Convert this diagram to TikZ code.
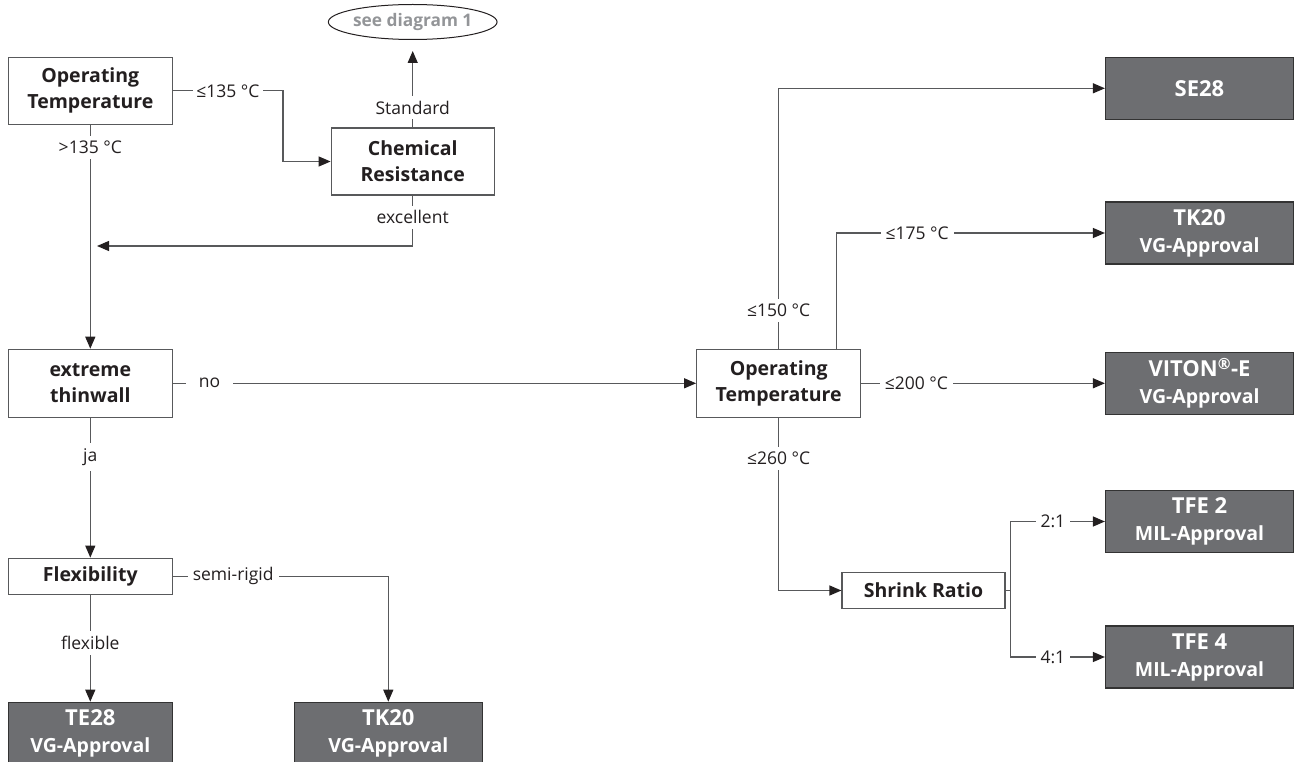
\documentclass[tikz,border=0pt]{standalone}
\usepackage{fontspec}
\setmainfont{Open Sans}
\usetikzlibrary{arrows.meta,shapes.geometric}
\definecolor{linegray}{HTML}{58595B}
\definecolor{boxgray}{HTML}{6D6E71}
\definecolor{txtgray}{HTML}{231F20}
\definecolor{ovalgray}{HTML}{939598}
\newcommand\Tle[1]{≤#1 °C}
\newcommand\Appr[1]{\\{\fontsize{19.5}{22}\selectfont #1-Approval}}

\begin{document}
\begin{tikzpicture}[x=1pt,y=-1pt,line width=1.2pt,color=linegray,
    >={Triangle[length=12pt,width=10pt,color=txtgray]},
    ask/.style={draw=linegray,fill=white,text=txtgray,align=center,inner sep=0pt,
        minimum width=164pt,minimum height=67pt,font=\bfseries\fontsize{19.5}{26}\selectfont},
    pick/.style={draw=black!80,fill=boxgray,text=white,align=center,inner sep=0pt,
        minimum width=188pt,minimum height=62pt,font=\bfseries\fontsize{22}{27}\selectfont},
    lbl/.style={fill=white,text=txtgray,inner xsep=5pt,inner ysep=5pt,font=\fontsize{17.5}{20}\selectfont}]
        \useasboundingbox (0,0) rectangle (1303,762);
        \node[ask] (ot1) at (90.3,90.8) {Operating\\Temperature};
        \node[ask,minimum width=163pt] (chem) at (412.7,161.5) {Chemical\\Resistance};
        \node[draw=txtgray,line width=1pt,ellipse,minimum width=152pt,minimum height=35pt,inner sep=0pt,
            text=ovalgray,font=\bfseries\fontsize{17.3}{20}\selectfont] (diag1) at (412.7,22) {see diagram 1};
        \node[ask,minimum height=68pt] (thin) at (90.3,383.3) {extreme\\thinwall};
        \node[ask,minimum height=36pt] (flex) at (90.3,576.2) {Flexibility};
        \node[pick,minimum width=164pt] (te28) at (90.3,733.3) {TE28\Appr{VG}};
        \node[pick] (tk20l) at (388.3,733.3) {TK20\Appr{VG}};
        \node[ask,minimum height=68pt] (ot2) at (778.7,383.3) {Operating\\Temperature};
        \node[pick] (se28) at (1199.5,88.3) {SE28};
        \node[pick] (tk20r) at (1199.5,233) {TK20\Appr{VG}};
        \node[pick] (viton) at (1199.5,383.3) {VITON\textsuperscript{®}-E\Appr{VG}};
        \node[ask,minimum width=163pt,minimum height=36pt] (shrink) at (923.5,590.5) {Shrink Ratio};
        \node[pick] (tfe2) at (1199.5,521.5) {TFE 2\Appr{MIL}};
        \node[pick] (tfe4) at (1199.5,657) {TFE 4\Appr{MIL}};
        \coordinate (k135) at (283,0);
        \coordinate (back) at (97,246);
        \coordinate (fork) at (1010.3,0);
        \draw[->] (ot1.east) -- node[lbl,inner xsep=3pt] {\Tle{135}} (ot1.east -| k135) |- (chem.west);
        \draw[->,shorten >=11pt] (chem.north) -- node[lbl,pos=0.226] {Standard} (diag1.south);
        \draw[->] (chem.south) |- node[lbl,pos=0.215] {excellent} (back);
        \draw[->] (ot1) -- node[lbl,pos=0.1] {>135 °C} (thin);
        \draw[->] (thin) -- node[lbl,pos=0.07,inner xsep=13pt] {no} (ot2);
        \draw[->] (thin) -- node[lbl,pos=0.28] {ja} (flex);
        \draw[->] (flex) -- node[lbl,pos=0.45] {flexible} (te28);
        \draw[->] (flex.east) -| node[lbl,pos=0.14] {semi-rigid} (tk20l.north);
        \draw[->] (ot2.north) |- node[lbl,pos=0.074] {\Tle{150}} (se28.west);
        \draw[->] ([xshift=58pt]ot2.north) |- node[lbl,pos=0.65] {\Tle{175}} (tk20r.west);
        \draw[->] (ot2) -- node[lbl,pos=0.226] {\Tle{200}} (viton);
        \draw[->] (ot2.south) |- node[lbl,pos=0.1175] {\Tle{260}} (shrink.west);
        \draw (shrink.east) -- (shrink.east -| fork);
        \draw[->] (shrink.east -| fork) |- node[lbl,pos=0.725] {2:1} (tfe2.west);
        \draw[->] (shrink.east -| fork) |- node[lbl,pos=0.725] {4:1} (tfe4.west);
    \end{tikzpicture}
\end{document}
